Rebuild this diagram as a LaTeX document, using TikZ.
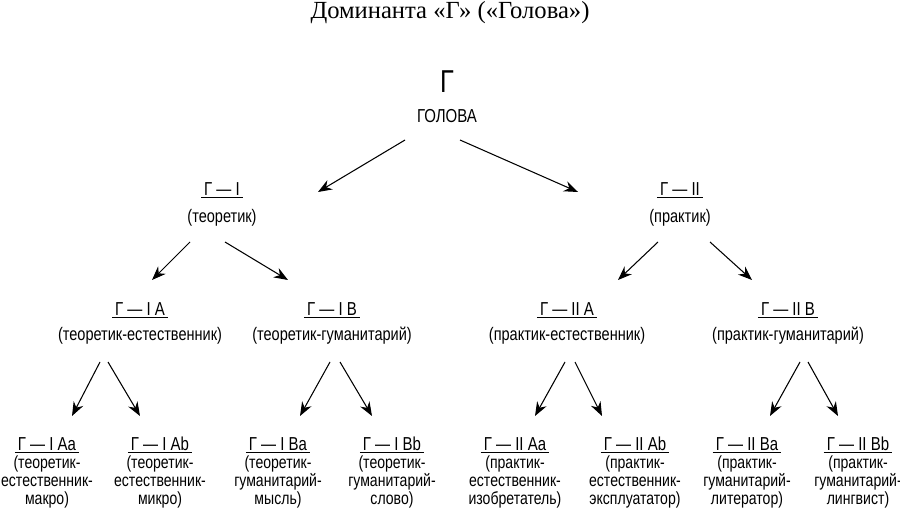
\documentclass[tikz,border=0pt]{standalone}
\usepackage{fontspec}
\setmainfont{Liberation Sans}[FakeStretch=0.8]
\newfontfamily\titlefont{Liberation Serif}
\usetikzlibrary{arrows.meta,positioning}
\tikzset{
  head/.style={inner sep=1pt,font=\fontsize{16}{18}\selectfont},
  sub/.style={inner sep=1pt,align=center,font=\fontsize{15.5}{17.5}\selectfont},
  arr/.style={-{Stealth[length=4.2mm,width=3.2mm]},line width=0.9pt}
}
\newcommand{\hd}[1]{\underline{\,#1\,}}
\begin{document}
\begin{tikzpicture}[x=0.03cm,y=-0.03cm]
\useasboundingbox (0,0) rectangle (900,516);

% title
\node[font=\titlefont\fontsize{21}{24}\selectfont] (title) at (450,13) {Доминанта «Г» («Голова»)};

% root
\node[font=\fontsize{27}{30}\selectfont] (g) at (447,82) {Г};
\node[head] (golova) at (447,116) {ГОЛОВА};

% first level
\node[head] (gI) at (222,190) {\hd{Г — I}};
\node[sub] (tI) at (222,218) {(теоретик)};
\node[head] (gII) at (680,190) {\hd{Г — II}};
\node[sub] (tII) at (680,218) {(практик)};

% second level
\node[head] (gIA) at (140,310) {\hd{Г — I A}};
\node[sub] (tIA) at (140,336) {(теоретик-естественник)};
\node[head] (gIB) at (332,310) {\hd{Г — I B}};
\node[sub] (tIB) at (332,336) {(теоретик-гуманитарий)};
\node[head] (gIIA) at (567,310) {\hd{Г — II A}};
\node[sub] (tIIA) at (567,336) {(практик-естественник)};
\node[head] (gIIB) at (788,310) {\hd{Г — II B}};
\node[sub] (tIIB) at (788,336) {(практик-гуманитарий)};

% third level
\foreach \nm/\x/\lbl/\txt in {
  IAa/47/Г — I Aa/{(теоретик-\\естественник-\\макро)},
  IAb/160/Г — I Ab/{(теоретик-\\естественник-\\микро)},
  IBa/278/Г — I Ba/{(теоретик-\\гуманитарий-\\мысль)},
  IBb/392/Г — I Bb/{(теоретик-\\гуманитарий-\\слово)},
  IIAa/515/Г — II Aa/{(практик-\\естественник-\\изобретатель)},
  IIAb/635/Г — II Ab/{(практик-\\естественник-\\эксплуататор)},
  IIBa/747/Г — II Ba/{(практик-\\гуманитарий-\\литератор)},
  IIBb/858/Г — II Bb/{(практик-\\гуманитарий-\\лингвист)}}{
  \node[head] (g\nm) at (\x,445) {\hd{\lbl}};
  \node[sub,below=0pt of g\nm,font=\fontsize{15}{15.5}\selectfont] (t\nm) {\txt};
}

% arrows
\foreach \nm/\xa/\ya/\xb/\yb in {
  a/405/140/318/192, b/460/140/578/192,
  c/190/242/152/280, d/225/242/288/280,
  e/658/242/618/280, f/710/242/752/280,
  g/100/362/72/416,  h/108/362/140/416,
  i/330/362/300/416, j/340/362/372/416,
  k/565/362/535/416, l/575/362/602/416,
  m/800/362/770/416, n/808/362/838/416}{
  \coordinate (s\nm) at (\xa,\ya);
  \coordinate (e\nm) at (\xb,\yb);
  \draw[arr] (s\nm) -- (e\nm);
}
\end{tikzpicture}
\end{document}
